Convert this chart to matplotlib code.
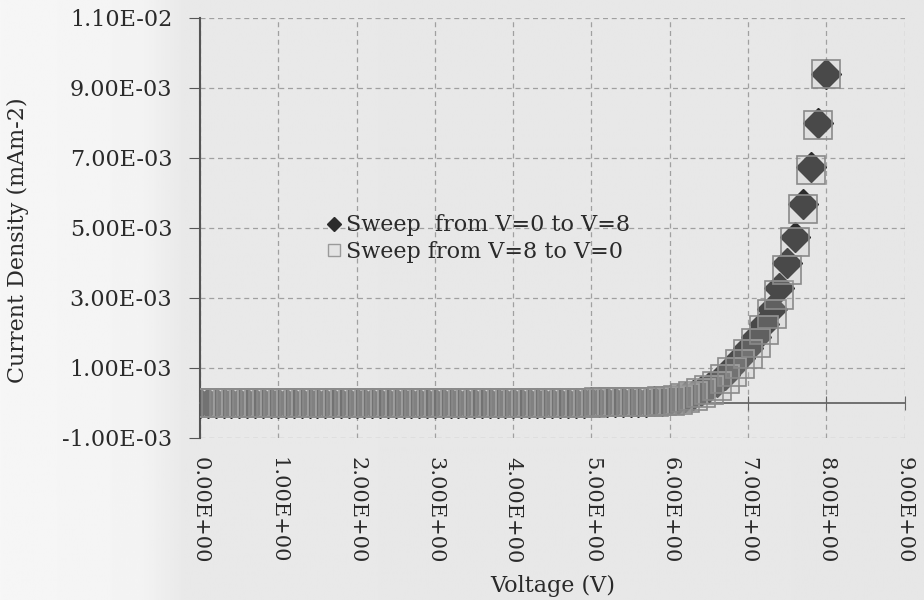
import numpy as np
import matplotlib
matplotlib.use("Agg")
import matplotlib.pyplot as plt
from matplotlib.lines import Line2D
from matplotlib.ticker import FuncFormatter

# voltage steps of the sweep (V)
voltage = [0.0, 0.1, 0.2, 0.3, 0.4, 0.5, 0.6, 0.7, 0.8, 0.9,
           1.0, 1.1, 1.2, 1.3, 1.4, 1.5, 1.6, 1.7, 1.8, 1.9,
           2.0, 2.1, 2.2, 2.3, 2.4, 2.5, 2.6, 2.7, 2.8, 2.9,
           3.0, 3.1, 3.2, 3.3, 3.4, 3.5, 3.6, 3.7, 3.8, 3.9,
           4.0, 4.1, 4.2, 4.3, 4.4, 4.5, 4.6, 4.7, 4.8, 4.9,
           5.0, 5.1, 5.2, 5.3, 5.4, 5.5, 5.6, 5.7, 5.8, 5.9,
           6.0, 6.1, 6.2, 6.3, 6.4, 6.5, 6.6, 6.7, 6.8, 6.9,
           7.0, 7.1, 7.2, 7.3, 7.4, 7.5, 7.6, 7.7, 7.8, 7.9,
           8.0]

# current density, read in units of 1E-03
fwd_e3 = [0.00, 0.00, 0.00, 0.00, 0.00, 0.00, 0.00, 0.00, 0.00, 0.00,
          0.00, 0.00, 0.00, 0.00, 0.00, 0.00, 0.00, 0.00, 0.00, 0.00,
          0.00, 0.00, 0.00, 0.00, 0.00, 0.00, 0.00, 0.00, 0.00, 0.00,
          0.00, 0.00, 0.00, 0.00, 0.00, 0.00, 0.00, 0.00, 0.01, 0.01,
          0.01, 0.01, 0.01, 0.01, 0.01, 0.01, 0.01, 0.01, 0.01, 0.01,
          0.02, 0.02, 0.02, 0.02, 0.03, 0.03, 0.04, 0.04, 0.05, 0.06,
          0.08, 0.12, 0.17, 0.24, 0.33, 0.45, 0.60, 0.80, 1.03, 1.30,
          1.58, 1.90, 2.25, 2.70, 3.30, 4.00, 4.75, 5.70, 6.75, 8.00,
          9.40]
rev_e3 = [0.00, 0.00, 0.00, 0.00, 0.00, 0.00, 0.00, 0.00, 0.00, 0.00,
          0.00, 0.00, 0.00, 0.00, 0.00, 0.00, 0.00, 0.00, 0.00, 0.00,
          0.00, 0.00, 0.00, 0.00, 0.00, 0.00, 0.00, 0.00, 0.00, 0.00,
          0.00, 0.00, 0.00, 0.00, 0.00, 0.00, 0.00, 0.00, 0.00, 0.01,
          0.01, 0.01, 0.01, 0.01, 0.01, 0.01, 0.01, 0.01, 0.01, 0.01,
          0.01, 0.02, 0.02, 0.02, 0.02, 0.03, 0.03, 0.04, 0.04, 0.05,
          0.07, 0.10, 0.14, 0.20, 0.28, 0.38, 0.50, 0.68, 0.88, 1.12,
          1.40, 1.72, 2.10, 2.55, 3.10, 3.80, 4.60, 5.55, 6.65, 7.95,
          9.40]

fwd_label = "Sweep  from V=0 to V=8"
rev_label = "Sweep from V=8 to V=0"

xticks = [0, 1, 2, 3, 4, 5, 6, 7, 8, 9]
yticks = [-1e-3, 1e-3, 3e-3, 5e-3, 7e-3, 9e-3, 1.1e-2]

v = np.array(voltage)
fwd = np.array(fwd_e3) * 1e-3
rev = np.array(rev_e3) * 1e-3

plt.rcParams['font.family'] = ['DejaVu Serif']
txt = '#2a2a2a'
fig = plt.figure(figsize=(9.24, 6.0), dpi=100)
fig.patch.set_facecolor('#e9e9e9')

# scanned-page look: lighter strip on the left
bg = fig.add_axes([0, 0, 1, 1], zorder=-10)
grad = np.interp(np.linspace(0, 1, 400), [0, 0.15, 0.2, 1], [0.965, 0.955, 0.912, 0.905])
bg.imshow(np.tile(grad, (2, 1)), cmap='gray', vmin=0, vmax=1, aspect='auto',
          extent=[0, 1, 0, 1])
bg.axis('off')

ax = fig.add_axes([0.2165, 0.27, 0.7625, 0.70])
ax.set_facecolor('none')

ax.plot(v, fwd, linestyle='none', marker='D', markersize=15,
        markerfacecolor='#2c2c2c', markeredgecolor='#2c2c2c', zorder=3)
ax.plot(v, rev, linestyle='none', marker='s', markersize=20,
        markerfacecolor=(0.75, 0.75, 0.75, 0.2), markeredgecolor='#8a8a8a',
        markeredgewidth=1.2, zorder=4)

ax.set_xlim(0, 9)
ax.set_ylim(-1e-3, 1.1e-2)
ax.set_xticks(xticks)
ax.set_yticks(yticks)
ax.yaxis.set_major_formatter(FuncFormatter(lambda y, p: '%.2E' % y))
ax.grid(True, linestyle=(0, (4, 3)), color='#a0a0a0', linewidth=0.9)
ax.set_axisbelow(True)

for s in ['top', 'right']:
    ax.spines[s].set_visible(False)
ax.spines['left'].set_color('#555555')
ax.spines['left'].set_linewidth(1.5)
ax.spines['bottom'].set_position(('data', 0))
ax.spines['bottom'].set_color('#666666')
ax.spines['bottom'].set_linewidth(1.3)
ax.tick_params(axis='x', direction='inout', length=10, color='#666666',
               labelbottom=False)
ax.tick_params(axis='y', direction='out', length=8, color='#555555',
               labelsize=16, labelcolor=txt, pad=12)

sec = ax.secondary_xaxis('bottom')
sec.set_xticks(xticks)
sec.xaxis.set_major_formatter(FuncFormatter(lambda x, p: '%.2E' % x))
sec.tick_params(length=0, labelsize=15, labelcolor=txt, labelrotation=-90, pad=14)
sec.spines['bottom'].set_visible(False)
sec.set_xlabel('Voltage (V)', fontsize=16, color=txt, labelpad=8)

ax.set_ylabel('Current Density (mAm-2)', fontsize=16, color=txt)
ax.yaxis.set_label_coords(-0.243, 0.47)

handles = [
    Line2D([], [], linestyle='none', marker='D', markersize=7,
           markerfacecolor='#2c2c2c', markeredgecolor='#2c2c2c', label=fwd_label),
    Line2D([], [], linestyle='none', marker='s', markersize=9,
           markerfacecolor='#e4e4e4', markeredgecolor='#9a9a9a', label=rev_label),
]
leg = ax.legend(handles=handles, loc='center left', bbox_to_anchor=(0.15, 0.475),
                frameon=False, fontsize=16, handlelength=0.7, handletextpad=0.2,
                labelspacing=0.2)
for t in leg.get_texts():
    t.set_color(txt)

fig.savefig('out.png', dpi=100, facecolor=fig.get_facecolor())
